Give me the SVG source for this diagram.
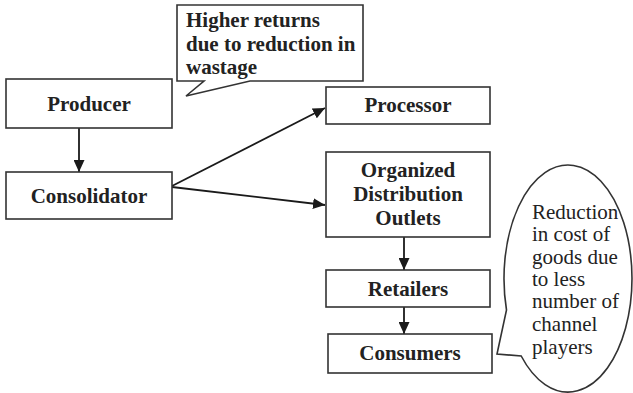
<svg xmlns="http://www.w3.org/2000/svg" width="633" height="393" viewBox="0 0 633 393">
  <defs>
    <marker id="arrow" viewBox="0 0 12 11" refX="12" refY="5.5" markerWidth="12" markerHeight="11" markerUnits="userSpaceOnUse" orient="auto">
      <path d="M0,0 L12,5.5 L0,11 Z" fill="#1a1a1a"/>
    </marker>
  </defs>
  <style>
    .box { fill: #fff; stroke: #333; stroke-width: 1.6; }
    .bold { font-family: "Liberation Serif", "Times New Roman", serif; font-weight: bold; font-size: 21px; fill: #222; }
    .plain { font-family: "Liberation Serif", "Times New Roman", serif; font-size: 21px; fill: #222; }
    .link { stroke: #1a1a1a; stroke-width: 1.8; fill: none; marker-end: url(#arrow); }
  </style>
  <rect width="633" height="393" fill="#fff"/>

  <g id="connectors">
    <line class="link" x1="79" y1="128" x2="79" y2="172"/>
    <line class="link" x1="172" y1="186" x2="325" y2="108"/>
    <line class="link" x1="172" y1="187" x2="325" y2="205"/>
    <line class="link" x1="404" y1="237" x2="404" y2="270"/>
    <line class="link" x1="404" y1="307" x2="404" y2="334"/>
  </g>

  <g id="callout-returns">
    <path class="box" d="M177,5 H363 V81 H250 L186,96 L204,81 H177 Z"/>
    <text class="bold" x="186" y="27">Higher returns</text>
    <text class="bold" x="186" y="51">due to reduction in</text>
    <text class="bold" x="186" y="74">wastage</text>
  </g>

  <g id="producer">
    <rect class="box" x="6" y="79" width="166" height="49"/>
    <text class="bold" x="89" y="111" text-anchor="middle">Producer</text>
  </g>

  <g id="consolidator">
    <rect class="box" x="6" y="172" width="166" height="47"/>
    <text class="bold" x="89" y="203" text-anchor="middle">Consolidator</text>
  </g>

  <g id="processor">
    <rect class="box" x="326" y="87" width="164" height="37"/>
    <text class="bold" x="408" y="112" text-anchor="middle">Processor</text>
  </g>

  <g id="distribution-outlets">
    <rect class="box" x="326" y="152" width="164" height="85"/>
    <text class="bold" x="408" y="177" text-anchor="middle">Organized</text>
    <text class="bold" x="408" y="201" text-anchor="middle">Distribution</text>
    <text class="bold" x="408" y="225" text-anchor="middle">Outlets</text>
  </g>

  <g id="retailers">
    <rect class="box" x="326" y="270" width="164" height="37"/>
    <text class="bold" x="408" y="296" text-anchor="middle">Retailers</text>
  </g>

  <g id="consumers">
    <rect class="box" x="328" y="334" width="164" height="39"/>
    <text class="bold" x="410" y="360" text-anchor="middle">Consumers</text>
  </g>

  <g id="callout-cost">
    <path class="box" d="M506.5,310 A64,113.5 0 1 1 521.2,356 L497,354 Z"/>
    <text class="plain" x="532" y="219">Reduction</text>
    <text class="plain" x="532" y="241">in cost of</text>
    <text class="plain" x="532" y="264">goods due</text>
    <text class="plain" x="532" y="286">to less</text>
    <text class="plain" x="532" y="308">number of</text>
    <text class="plain" x="532" y="331">channel</text>
    <text class="plain" x="532" y="354">players</text>
  </g>
</svg>
